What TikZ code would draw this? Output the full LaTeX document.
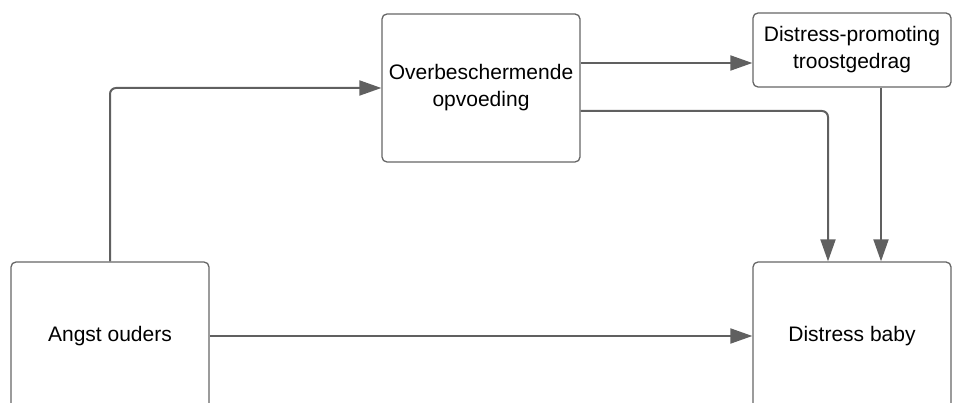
\documentclass[tikz,border=0pt]{standalone}
\usepackage{fontspec}
\setmainfont{Liberation Sans}
\usetikzlibrary{arrows.meta}
\begin{document}
\begin{tikzpicture}[x=1pt, y=-1pt,
  box/.style={draw=gray!80!black, line width=1.3pt, rounded corners=5pt, fill=white,
    minimum width=198pt, minimum height=148pt, align=center, inner sep=0pt,
    font=\fontsize{21}{27}\selectfont},
  link/.style={draw=gray!75!black, line width=2pt, rounded corners=6pt,
    -{Triangle[length=22pt,width=15pt]}}]
\useasboundingbox (0,0) rectangle (966,403);
\clip (0,0) rectangle (966,403);
% Boxes
\node[box] (angst) at (110,336) {Angst ouders};
\node[box] (overb) at (481,88) {Overbeschermende\\opvoeding};
\node[box, minimum height=74pt] (troost) at (852,50) {Distress-promoting\\troostgedrag};
\node[box] (baby) at (852,336) {Distress baby};
% Connectors
\draw[link] (angst.north) |- (overb.west);
\draw[link] (angst.east) -- (baby.west);
\coordinate (o1) at ([yshift=25pt]overb.east);
\coordinate (o2) at ([yshift=-23pt]overb.east);
\draw[link] (o1) -- (o1 -| troost.west);
\draw[link] (o2) -| ([xshift=-24pt]baby.north);
\draw[link] ([xshift=29pt]troost.south) -- ([xshift=29pt]baby.north);
\end{tikzpicture}
\end{document}
